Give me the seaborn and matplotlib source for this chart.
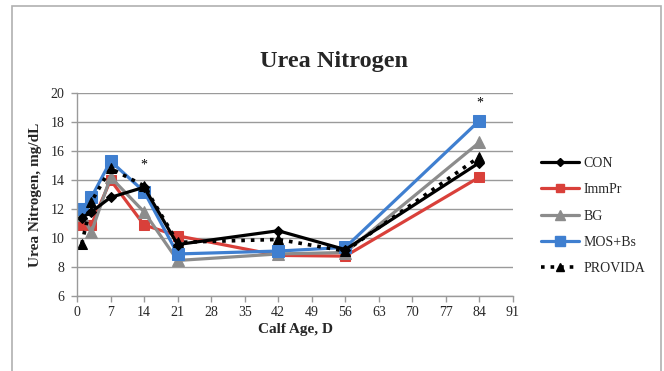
import matplotlib
matplotlib.use("Agg")
import matplotlib.pyplot as plt
import seaborn as sns
import pandas as pd
from matplotlib.patches import Rectangle
from matplotlib.lines import Line2D

days = [1, 3, 7, 14, 21, 42, 56, 84]
con = [11.4, 11.8, 12.8, 13.5, 9.55, 10.5, 9.2, 15.2]
immpr = [10.9, 10.9, 14.0, 10.9, 10.15, 8.8, 8.75, 14.2]
bg = [11.6, 10.4, 14.2, 11.8, 8.45, 8.9, 9.0, 16.6]
mosbs = [12.0, 12.8, 15.3, 13.2, 8.9, 9.1, 9.35, 18.1]
provida = [9.6, 12.5, 14.8, 13.6, 9.7, 9.9, 9.1, 15.6]
series_names = ["CON", "ImmPr", "BG", "MOS+Bs", "PROVIDA"]
xticks = [0, 7, 14, 21, 28, 35, 42, 49, 56, 63, 70, 77, 84, 91]
yticks = [6, 8, 10, 12, 14, 16, 18, 20]
star_days = [14, 84]
star_vals = [15.0, 19.3]

sns.set_theme(style="white")
plt.rcParams["font.family"] = ["Liberation Serif", "DejaVu Serif"]

rows = []
for name, vals in zip(series_names, [con, immpr, bg, mosbs, provida]):
    for d, v in zip(days, vals):
        rows.append({"day": d, "val": v, "group": name})
df = pd.DataFrame(rows)

W, H = 664, 371
fig = plt.figure(figsize=(W / 100, H / 100), dpi=100)
ax = fig.add_axes([77 / W, 1 - 296 / H, (513 - 77) / W, (296 - 93) / H])

styles = {
    "CON": dict(color="black", marker="D", ms=5, ls="-", lw=2.3),
    "ImmPr": dict(color="#d9403a", marker="s", ms=7, ls="-", lw=2.3),
    "BG": dict(color="#8c8c8c", marker="^", ms=8, ls="-", lw=2.3),
    "MOS+Bs": dict(color="#3f7fd0", marker="s", ms=8, ls="-", lw=2.3),
    "PROVIDA": dict(color="black", marker="^", ms=7, ls=":", lw=2.6),
}
order = ["ImmPr", "BG", "MOS+Bs", "CON", "PROVIDA"]
for name in order:
    st = styles[name]
    sub = df[df.group == name]
    sns.lineplot(data=sub, x="day", y="val", ax=ax, color=st["color"],
                 linestyle=st["ls"], linewidth=st["lw"], marker=st["marker"],
                 markersize=st["ms"], markeredgecolor=st["color"],
                 markerfacecolor=st["color"], legend=False, sort=False)

ax.set_xlim(0, 91)
ax.set_ylim(6, 20)
ax.set_xticks(xticks)
ax.set_yticks(yticks)
ax.set_xticklabels([str(t) for t in xticks], fontsize=10)
ax.set_yticklabels([str(t) for t in yticks], fontsize=10)
ax.yaxis.grid(True, color="#9a9a9a", lw=1)
ax.set_axisbelow(True)
for s in ["top", "right"]:
    ax.spines[s].set_visible(False)
for s in ["left", "bottom"]:
    ax.spines[s].set_color("#9a9a9a")
    ax.spines[s].set_linewidth(1)
ax.tick_params(axis="both", which="major", direction="out", length=4,
               color="#9a9a9a", width=1, pad=3, labelsize=10)
ax.tick_params(axis="y", pad=5)
ax.tick_params(axis="x", bottom=True)
ax.tick_params(axis="y", left=True)

ax.set_xlabel("Calf Age, D", fontsize=11, fontweight="bold", labelpad=3)
ax.set_ylabel("Urea Nitrogen, mg/dL", fontsize=11, fontweight="bold", labelpad=6)

for d, v in zip(star_days, star_vals):
    ax.text(d, v, "*", ha="center", va="center", fontsize=10, color="black")

fig.text(334 / W, 1 - 62 / H, "Urea Nitrogen", ha="center", va="center",
         fontsize=17.5, fontweight="bold")

handles = []
for name in series_names:
    st = styles[name]
    handles.append(Line2D([0], [0], color=st["color"], ls=st["ls"], lw=st["lw"],
                          marker=st["marker"], ms=st["ms"] * 0.85,
                          markerfacecolor=st["color"], markeredgecolor=st["color"]))
fig.legend(handles, series_names, loc="center left",
           bbox_to_anchor=(528 / W, 1 - 216 / H), frameon=False,
           fontsize=10, handlelength=2.8, labelspacing=0.95, handletextpad=0.3)

fig.patches.append(Rectangle((12 / W, -0.05), (661 - 12) / W, 1.05 - 6.5 / H,
                             transform=fig.transFigure, fill=False,
                             edgecolor="#b0b0b0", lw=1.2))

fig.savefig("out.png", dpi=100)
